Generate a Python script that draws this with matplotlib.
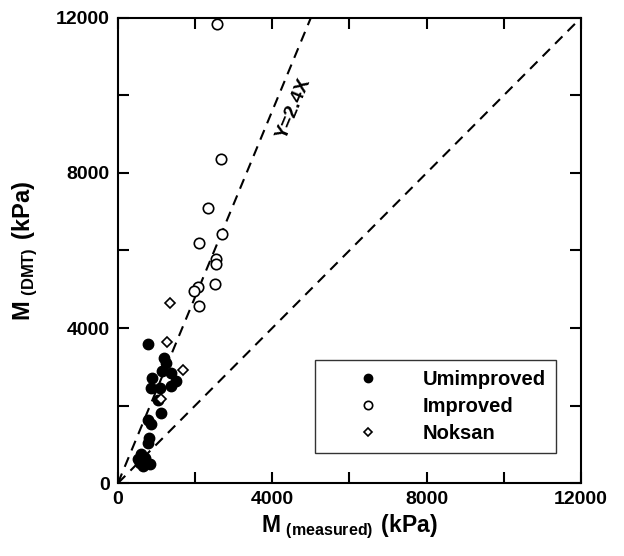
import numpy as np
import matplotlib
matplotlib.use("Agg")
import matplotlib.pyplot as plt
from matplotlib.ticker import MultipleLocator

plt.rcParams['font.family'] = ['Liberation Sans', 'DejaVu Sans']
plt.rcParams['font.weight'] = 'bold'
plt.rcParams['mathtext.fontset'] = 'custom'
plt.rcParams['mathtext.rm'] = 'Liberation Sans:bold'
plt.rcParams['mathtext.bf'] = 'Liberation Sans:bold'

# data (kPa)
unimp_x = [778, 1192, 1244, 1140, 1374, 1503, 881, 855, 1089, 1374, 1037, 1115,
           778, 855, 803, 778, 596, 518, 700, 829, 648, 570]
unimp_y = [3595, 3233, 3103, 2897, 2845, 2638, 2716, 2457, 2457, 2509, 2147, 1810,
           1629, 1526, 1164, 1034, 750, 621, 647, 491, 440, 517]

imp_x = [2566, 2670, 2333, 2696, 2100, 2540, 2540, 2514, 2073, 1970, 2100]
imp_y = [11845, 8353, 7086, 6414, 6181, 5793, 5664, 5147, 5069, 4966, 4578]

nok_x = [1348, 1270, 1685, 1115]
nok_y = [4655, 3647, 2922, 2172]

ratio = 2.4

fig = plt.figure(figsize=(6.24, 5.56), dpi=100)
ax = fig.add_axes([0.189, 0.131, 0.742, 0.837])

# reference lines
xs = np.array([0, 12000])
ax.plot(xs, xs, '--', color='black', lw=1.5, dashes=(5, 3.5))
ax.plot([0, 12000 / ratio], [0, 12000], '--', color='black', lw=1.5, dashes=(5, 3.5))
ax.text(4560, 9650, 'Y=2.4X', rotation=67.4, ha='center', va='center',
        fontsize=14, fontweight='bold', rotation_mode='anchor')

ax.plot(unimp_x, unimp_y, 'o', color='black', ms=7.5, ls='none', label='Umimproved')
ax.plot(imp_x, imp_y, 'o', mfc='white', mec='black', mew=1.2, ms=7.5, ls='none', label='Improved')
ax.plot(nok_x, nok_y, 'D', mfc='white', mec='black', mew=1.2, ms=5.5, ls='none', label='Noksan')

ax.set_xlim(0, 12000)
ax.set_ylim(0, 12000)
ax.xaxis.set_major_locator(MultipleLocator(4000))
ax.yaxis.set_major_locator(MultipleLocator(4000))
ax.xaxis.set_minor_locator(MultipleLocator(2000))
ax.yaxis.set_minor_locator(MultipleLocator(2000))
ax.tick_params(which='both', direction='in', top=True, right=True, width=1.5, length=8,
               labelsize=14, pad=6)
for lab in ax.get_xticklabels() + ax.get_yticklabels():
    lab.set_fontweight('bold')
for s in ax.spines.values():
    s.set_linewidth(1.5)

ax.set_xlabel(r'$\mathbf{M}_{\mathbf{\ (measured)}}\mathbf{\ (kPa)}$', fontsize=16.5, labelpad=3)
ax.set_ylabel(r'$\mathbf{M}_{\mathbf{\ (DMT)}}\mathbf{\ (kPa)}$', fontsize=17, labelpad=12)

leg = ax.legend(loc='lower right', bbox_to_anchor=(0.967, 0.043), frameon=True, fancybox=False,
                edgecolor='black', prop={'size': 14.5, 'weight': 'bold'}, markerscale=0.8,
                handletextpad=0.55, borderpad=0.5, labelspacing=0.4, handlelength=4.3)
leg.get_frame().set_linewidth(1.0)

fig.savefig('out.png', dpi=100)
